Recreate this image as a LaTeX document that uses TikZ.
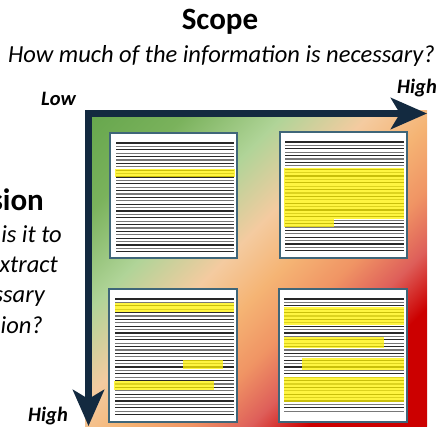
\documentclass[tikz,border=0pt]{standalone}
\usepackage{fontspec}
\setmainfont{Carlito}
\usetikzlibrary{arrows.meta}
\definecolor{navy}{RGB}{19,42,64}
\definecolor{docborder}{RGB}{63,102,121}
\definecolor{g0}{RGB}{100,165,75}
\definecolor{g1}{RGB}{122,178,92}
\definecolor{g2}{RGB}{176,212,152}
\definecolor{g3}{RGB}{244,203,160}
\definecolor{g4}{RGB}{245,180,116}
\definecolor{g5}{RGB}{240,148,100}
\definecolor{g6}{RGB}{222,95,90}
\definecolor{g7}{RGB}{204,0,0}
\definecolor{lineDark}{RGB}{40,40,40}
\definecolor{lineGray}{RGB}{120,120,120}
\pgfdeclarehorizontalshading{quadshade}{100bp}{color(0bp)=(g0); color(25bp)=(g0); color(33bp)=(g1); color(40.5bp)=(g2); color(47bp)=(g3); color(52bp)=(g4); color(57bp)=(g5); color(61.5bp)=(g6); color(66bp)=(g7); color(100bp)=(g7)}
\newcommand\docLines[4]{%
  \foreach \yy in {#3,...,#4} {\draw[lineDark,line width=1.3pt] (#1,\yy) -- (#2,\yy);}
}
\newcommand\docLinesB[4]{%
  \foreach \yy in {#3,...,#4} {\draw[lineGray,line width=1.3pt] (#1,\yy) -- (#2,\yy);}
}
\tikzset{
  title/.style={font=\bfseries\fontsize{31}{35}\selectfont, inner sep=0pt},
  question/.style={font=\itshape\fontsize{24.5}{28}\selectfont, inner sep=0pt},
  level/.style={font=\bfseries\itshape\fontsize{20.5}{24}\selectfont, inner sep=0pt},
  docbox/.style={draw=docborder, line width=1.6pt, fill=white},
  hilite/.style={fill=yellow, fill opacity=0.75},
  axisarrow/.style={draw=navy, line width=7pt, line join=miter,
    {Stealth[length=36pt,width=31pt,inset=9pt]}-{Stealth[length=36pt,width=31pt,inset=9pt]}}
}
\begin{document}
\begin{tikzpicture}[x=1pt,y=-1pt]
\useasboundingbox (0,0) rectangle (441,426);
% gradient field
\begin{scope}
  \clip (85,110) rectangle (427,426);
  \begin{scope}[transform canvas={rotate around={-45:(256,268)}}]
    \shade[shading=quadshade] (23,35) rectangle (489,501);
  \end{scope}
\end{scope}
% axes
\coordinate (corner) at (88.5,113.5);
\coordinate (hend) at (427,113.5);
\coordinate (vend) at (88.5,426);
\draw[axisarrow] (hend) -- (corner) -- (vend);
% titles
\node[title, anchor=base] (scope) at (220,29) {Scope};
\node[question, anchor=base] (scopeq) at (221.5,62) {How much of the information is necessary?};
\node[level, anchor=base west] (low) at (41,105) {Low};
\node[level, anchor=base west] (highx) at (397,93) {High};
\node[level, anchor=base east] (highy) at (68,421) {High};
\node[title, anchor=base east] (prec) at (44,210) {sion};
\node[question, anchor=base east] (q1) at (62,242) {is it to};
\node[question, anchor=base east] (q2) at (58,272) {xtract};
\node[question, anchor=base east] (q3) at (45,302) {ssary};
\node[question, anchor=base east] (q4) at (43,333) {ion?};
% document top-left
\draw[docbox] (110,133) rectangle (237,258);
\docLines{116}{234}{143,149.8}{252}
\docLinesB{116}{234}{146.4,153.2}{252}
\fill[hilite] (115,169) rectangle (235,177);
% document top-right
\draw[docbox] (280,132) rectangle (407,258);
\docLines{285}{404}{142,148.8}{252}
\docLinesB{285}{404}{145.4,152.2}{252}
\fill[hilite] (284,168) rectangle (404,219);
\fill[hilite] (284,219) rectangle (334,227);
% document bottom-left
\draw[docbox] (109,289) rectangle (237,422);
\docLines{115}{234}{299,305.8}{415}
\docLinesB{115}{234}{302.4,309.2}{415}
\fill[hilite] (115,303) rectangle (234,312);
\fill[hilite] (183,360) rectangle (223,369);
\fill[hilite] (114,381) rectangle (214,390);
% document bottom-right
\draw[docbox] (279,289) rectangle (407,422);
\docLines{284}{404}{299,305.8}{412}
\docLinesB{284}{404}{302.4,309.2}{412}
\fill[hilite] (284,307) rectangle (404,325);
\fill[hilite] (284,337) rectangle (384,348);
\fill[hilite] (302,358) rectangle (404,370);
\fill[hilite] (284,377) rectangle (404,402);
\end{tikzpicture}
\end{document}
